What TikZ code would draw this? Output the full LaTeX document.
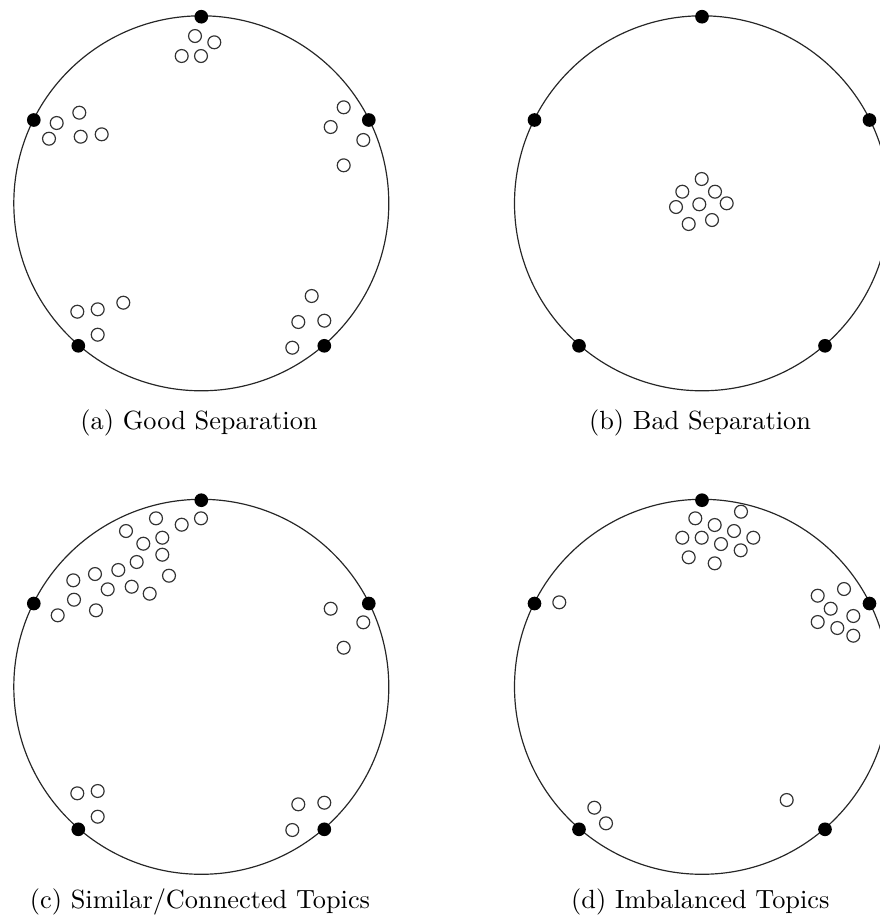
\documentclass[tikz,border=0pt]{standalone}
\begin{document}
\begin{tikzpicture}[x=0.38pt,y=-0.38pt,
  sphere/.style={draw=black!85,line width=0.45pt,circle,inner sep=0pt,minimum size=142.5pt},
  topic/.style={fill=black,draw=none,circle,inner sep=0pt,minimum size=5.2pt},
  doc/.style={draw=black!80,line width=0.45pt,circle,inner sep=0pt,fill=white,minimum size=4.9pt},
  captext/.style={anchor=base,font=\fontsize{10}{12}\selectfont,inner sep=0pt}]
\useasboundingbox (0,0) rectangle (880,921);

% the four simplices with their five topic vertices
\foreach \p/\cx/\cy in {a/201.3/203.3, b/702/203.3, c/201.3/686.8, d/702/686.8}{
  \node[sphere] (\p-S) at (\cx,\cy) {};
  \node[topic] (\p-T1) at (\cx,\cy-186.6) {};
  \node[topic] (\p-T2) at (\cx-167.5,\cy-83.3) {};
  \node[topic] (\p-T3) at (\cx+167.5,\cy-83.3) {};
  \node[topic] (\p-T4) at (\cx-123,\cy+142.5) {};
  \node[topic] (\p-T5) at (\cx+123,\cy+142.5) {};
}

% (a) documents near each topic
\foreach \x/\y [count=\i] in {195/36, 214.3/42.3, 181.7/56, 201/56,
  56.7/123, 79.3/112.7, 49/138.7, 80.7/136.7, 101.7/134.3,
  343.7/107.3, 330.7/127, 363.3/140, 343.7/165.3,
  123.3/302.7, 77.3/311.7, 97.7/309.3, 97.7/334.7,
  311.7/296, 298.3/322, 324.3/320.7, 292.3/347.7}
  \node[doc] (a-d\i) at (\x,\y) {};

% (b) documents collapsed in the middle
\foreach \x/\y [count=\i] in {701.7/179, 682.3/191.7, 715/191.7, 676/207,
  699.3/204.3, 726.7/203.3, 688.7/224, 712/220}
  \node[doc] (b-d\i) at (\x,\y) {};

% (c) documents spread between two neighbouring topics
\foreach \x/\y [count=\i] in {156/518.3, 181.7/524.7, 201/518.3, 126/531,
  162.3/537.7, 143.3/543.7, 162.3/554.7, 136.7/562, 118.3/570, 95/574,
  73.3/580.3, 169/575.7, 107.7/589.3, 131.7/586.7, 149.7/593.7, 74/599.7,
  96/610.3, 57.7/615.3,
  330.7/608.7, 363.3/622.3, 343.7/647.7,
  77.3/793.3, 97.7/791, 97.7/816.7,
  298.3/804.3, 324.3/802.7, 292.3/830}
  \node[doc] (c-d\i) at (\x,\y) {};

% (d) unevenly sized groups
\foreach \x/\y [count=\i] in {741/511.7, 695.3/518.3, 714.7/525, 734/531,
  682.3/537.7, 701.7/537.7, 753.3/537.7, 721/544, 740.7/550.3, 688.7/557.3,
  714.7/563.3,
  559.3/602.3,
  844/589, 817.7/595.7, 830.7/608.7, 853.3/616, 817.7/622, 837.3/628,
  853.3/635.7,
  786.7/800,
  594.3/807.7, 606/823.3}
  \node[doc] (d-d\i) at (\x,\y) {};

% captions
\node[captext] (a-cap) at (199,429.3) {(a) Good Separation};
\node[captext] (b-cap) at (700,429.3) {(b) Bad Separation};
\node[captext] (c-cap) at (200,908.3) {(c) Similar/Connected Topics};
\node[captext] (d-cap) at (700.3,908.3) {(d) Imbalanced Topics};
\end{tikzpicture}
\end{document}
